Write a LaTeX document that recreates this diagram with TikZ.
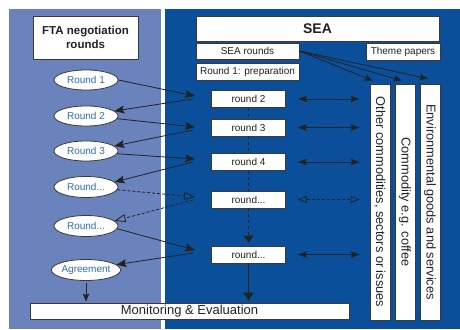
\documentclass[tikz,border=0pt]{standalone}
\usepackage{fontspec}
\setmainfont{Liberation Sans}
\usepackage{graphicx}
\usetikzlibrary{arrows.meta,calc,shapes.geometric}
\definecolor{lightpanel}{HTML}{6A83BC}
\definecolor{darkpanel}{HTML}{0B4F9B}
\definecolor{bordergray}{HTML}{3A3A3A}
\definecolor{inkblue}{HTML}{2F6DB5}
\definecolor{ink}{HTML}{222222}
\begin{document}
\begin{tikzpicture}[x=1pt,y=-1pt,
  box/.style={draw=bordergray, fill=white, line width=0.8pt, inner sep=0pt, text=ink, font=\fontsize{10}{12}\selectfont},
  rbox/.style={box, minimum width=74pt, minimum height=17pt},
  oval/.style={ellipse, draw=bordergray, fill=white, line width=0.8pt, inner sep=0pt, minimum width=64pt, minimum height=20pt, text=inkblue, font=\fontsize{10}{12}\selectfont},
  vbox/.style={box, minimum width=20pt, minimum height=236pt, font=\fontsize{12.8}{14}\selectfont},
  conn/.style={draw=ink, line width=0.8pt, -{Stealth[length=10pt,width=8pt,inset=2pt]}},
  sconn/.style={draw=ink, line width=0.8pt, -{Stealth[length=8pt,width=6.5pt,inset=1.5pt]}},
  dconn/.style={draw=ink, line width=0.8pt, dash pattern=on 3pt off 2pt, -{Triangle[open,length=11pt,width=8pt]}},
  twoway/.style={draw=ink, line width=0.8pt, {Stealth[length=9pt,width=6.5pt,inset=1.5pt]}-{Stealth[length=9pt,width=6.5pt,inset=1.5pt]}},
  dtwoway/.style={draw=ink, line width=0.8pt, dash pattern=on 3pt off 2pt, {Triangle[open,length=9pt,width=7pt]}-{Triangle[open,length=9pt,width=7pt]}},
  vdash/.style={draw=ink, line width=1.3pt, dash pattern=on 3pt off 3pt},
  vconn/.style={draw=ink, line width=1.3pt, -{Triangle[length=8pt,width=10pt]}}
]
\useasboundingbox (0,0) rectangle (460,329);
\fill[lightpanel] (9,9) rectangle (161,329);
\fill[darkpanel] (165,9) rectangle (460,329);

% left column
\node[box, minimum width=105pt, minimum height=43pt, align=center, font=\bfseries\fontsize{11.5}{14.5}\selectfont] (fta) at (85.5,37.5) {FTA negotiation\\rounds};
\node[oval] (e1) at (86,80) {Round 1};
\node[oval] (e2) at (86,116) {Round 2};
\node[oval] (e3) at (86,151) {Round 3};
\node[oval, minimum height=21pt] (e4) at (86,187) {Round...};
\node[oval, minimum height=21pt] (e5) at (86,226) {Round...};
\node[oval, minimum height=21pt] (e6) at (86,270) {Agreement};

% right column
\node[box, minimum width=243pt, minimum height=25pt, font=\bfseries\fontsize{14}{16}\selectfont] (sea) at (317.5,28.5) {SEA};
\node[box, minimum width=103pt, minimum height=16pt] (searounds) at (247.5,51) {SEA rounds};
\node[box, minimum width=74pt, minimum height=17pt] (theme) at (403,51.5) {Theme papers};
\node[box, minimum width=103pt, minimum height=17pt] (prep) at (247.5,71.5) {Round 1: preparation};
\node[rbox] (rb2) at (248.5,99) {round 2};
\node[rbox] (rb3) at (248.5,127.5) {round 3};
\node[rbox] (rb4) at (248.5,162) {round 4};
\node[rbox] (rb5) at (248.5,199.5) {round...};
\node[rbox] (rb6) at (248.5,254.5) {round...};
\node[vbox] (v1) at (380,202) {\rotatebox{-90}{Other commodities, sectors or issues}};
\node[vbox] (v2) at (405,202) {\rotatebox{-90}{Commodity e.g. coffee}};
\node[vbox] (v3) at (430,202) {\rotatebox{-90}{Environmental goods and services}};
\node[box, minimum width=319pt, minimum height=16pt, font=\fontsize{13}{15}\selectfont] (mon) at (189.5,311) {Monitoring \& Evaluation};

% zigzag points
\coordinate (p2) at (195,96);  \coordinate (q2) at (193,99);
\coordinate (p3) at (195,127); \coordinate (q3) at (193,130);
\coordinate (p4) at (195,159); \coordinate (q4) at (193,162);
\coordinate (p5) at (195,197); \coordinate (q5) at (193,200);
\coordinate (p6) at (195,250); \coordinate (q6) at (193,253);

\draw[conn] (e1.east) -- (p2);
\draw[conn] (q2) -- (e2.10);
\draw[conn] (e2.-5) -- (p3);
\draw[conn] (q3) -- (e3.10);
\draw[conn] (e3.-5) -- (p4);
\draw[conn] (q4) -- (e4.10);
\draw[dconn] (e4.-5) -- (p5);
\draw[dconn] (q5) -- (e5.10);
\draw[conn] (e5.-5) -- (p6);
\draw[conn] (q6) -- (e6.10);
\draw[sconn, shorten <=2pt, shorten >=1pt] (e6.south) -- (e6.south |- mon.north);

% SEA round chain
\draw[vdash] (rb2.south) -- (rb3.north);
\draw[vdash] (rb3.south) -- (rb4.north);
\draw[vdash] (rb4.south) -- (rb5.north);
\draw[vdash, -{Triangle[length=7pt,width=10pt]}, shorten >=3pt] (rb5.south) -- (rb6.north);
\draw[vconn, shorten >=2pt] (rb6.south) -- (rb6.south |- mon.north);

% two-way links
\draw[twoway, shorten <=12pt, shorten >=10pt] (rb2.east) -- (rb2.east -| v1.west);
\draw[twoway, shorten <=12pt, shorten >=10pt] (rb3.east) -- (rb3.east -| v1.west);
\draw[twoway, shorten <=12pt, shorten >=10pt] (rb4.east) -- (rb4.east -| v1.west);
\draw[dtwoway, shorten <=12pt, shorten >=10pt] (rb5.east) -- (rb5.east -| v1.west);
\draw[twoway, shorten <=12pt, shorten >=10pt] (rb6.east) -- (rb6.east -| v1.west);

% SEA rounds to themes
\draw[sconn] (searounds.east) -- ($(v1.north west)+(3,-3)$);
\draw[sconn] (searounds.east) -- ($(v2.north west)+(7,-3)$);
\draw[sconn] (searounds.east) -- ($(v3.north west)+(8,-5)$);
\end{tikzpicture}
\end{document}
